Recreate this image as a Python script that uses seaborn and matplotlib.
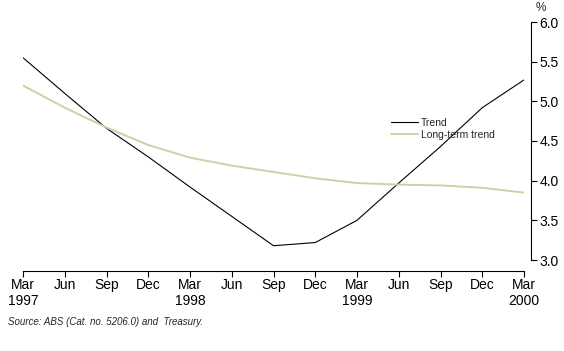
import pandas as pd
import seaborn as sns
import matplotlib.pyplot as plt
from matplotlib.lines import Line2D

# Quarterly periods, Mar 1997 to Mar 2000
quarters = ["Mar\n1997", "Jun", "Sep", "Dec", "Mar\n1998", "Jun", "Sep", "Dec",
            "Mar\n1999", "Jun", "Sep", "Dec", "Mar\n2000"]
trend = [5.55, 5.10, 4.66, 4.30, 3.92, 3.55, 3.18, 3.22, 3.50, 3.97, 4.43, 4.92, 5.27]
long_term = [5.20, 4.92, 4.67, 4.45, 4.29, 4.19, 4.11, 4.03, 3.97, 3.95, 3.94, 3.91, 3.85]

df = pd.DataFrame({
    "pos": list(range(len(quarters))) * 2,
    "value": trend + long_term,
    "series": ["Trend"] * len(trend) + ["Long-term trend"] * len(long_term),
})

sns.set_style("white")
plt.rcParams["font.family"] = ["Liberation Sans", "DejaVu Sans"]

fig = plt.figure(figsize=(5.64, 3.51), dpi=100)
ax = fig.add_axes([23 / 564, 1 - 260 / 351, (524 - 23) / 564, (260 - 22) / 351])

lt_color = "#cdd0a6"
palette = {"Trend": "black", "Long-term trend": lt_color}
sns.lineplot(data=df, x="pos", y="value", hue="series", palette=palette,
             size="series", sizes={"Trend": 0.8, "Long-term trend": 1.4},
             ax=ax, legend=False)

ax.set_xlim(0, len(quarters) - 1)
ax.set_ylim(3.0, 6.0)
ax.set_xticks(range(len(quarters)))
ax.set_xticklabels(quarters, fontsize=8.5, linespacing=1.0)
ax.set_yticks([3.0, 3.5, 4.0, 4.5, 5.0, 5.5, 6.0])
ax.set_yticklabels([f"{v:.1f}" for v in ax.get_yticks()], fontsize=8.5)
ax.yaxis.tick_right()
ax.set_xlabel("")
ax.set_ylabel("")

for s in ["top", "left"]:
    ax.spines[s].set_visible(False)
ax.spines["right"].set_position(("outward", 5))
ax.spines["bottom"].set_position(("outward", 8))
for s in ["right", "bottom"]:
    ax.spines[s].set_color("black")
    ax.spines[s].set_linewidth(0.8)
ax.tick_params(axis="both", direction="out", length=4, width=0.8, color="black",
               labelcolor="black")
ax.tick_params(axis="x", bottom=True, pad=1)
ax.tick_params(axis="y", right=True, pad=2)

# legend
handles = [Line2D([], [], color="black", lw=0.8),
           Line2D([], [], color=lt_color, lw=1.4)]
fig.legend(handles, ["Trend", "Long-term trend"], loc="upper left",
           bbox_to_anchor=(391 / 564, 1 - 118 / 351), frameon=False,
           fontsize=7.5, handlelength=2.6, handletextpad=0.3, labelspacing=0.15,
           borderpad=0, borderaxespad=0)

fig.text(541 / 564, 1 - 8 / 351, "%", fontsize=8.5, ha="center", va="center")
fig.text(8 / 564, 1 - 322 / 351, "Source: ABS (Cat. no. 5206.0) and  Treasury.",
         fontsize=7, style="italic", ha="left", va="center")

fig.savefig("out.png", dpi=100)
